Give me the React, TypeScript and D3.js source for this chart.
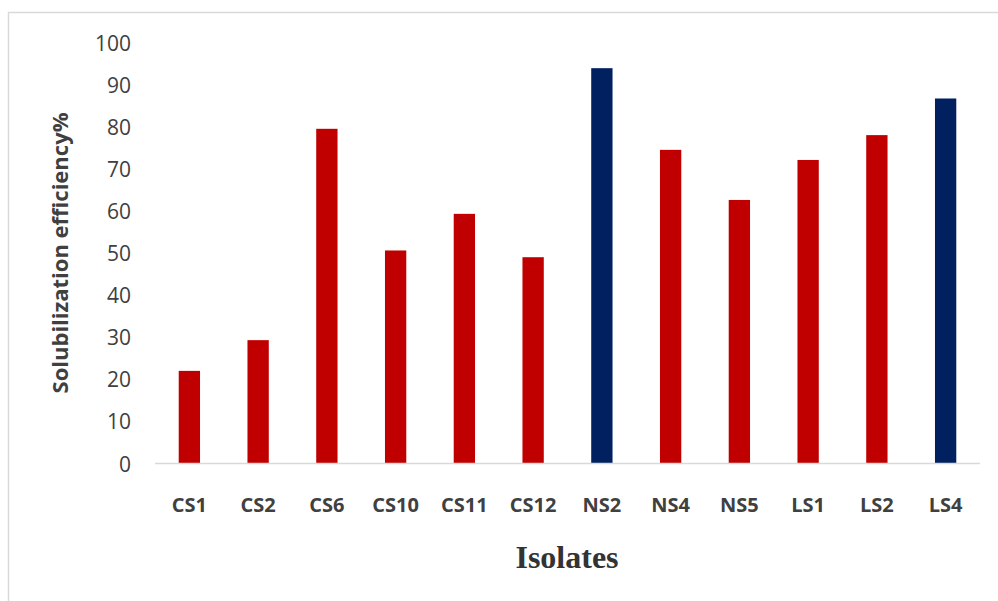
import React from "react";
import * as d3 from "d3";

const isolates = ["CS1", "CS2", "CS6", "CS10", "CS11", "CS12", "NS2", "NS4", "NS5", "LS1", "LS2", "LS4"];
const efficiency = [22.0, 29.3, 79.5, 50.6, 59.3, 49.0, 93.9, 74.5, 62.6, 72.1, 78.0, 86.7];
const highlighted = ["NS2", "LS4"];
const yTicks = [0, 10, 20, 30, 40, 50, 60, 70, 80, 90, 100];

const W = 998;
const H = 601;
const left = 155;
const right = 980;
const top = 42.5;
const bottom = 463.5;

export default function App() {
  const x = d3.scaleBand<string>().domain(isolates).range([left, right]).paddingInner(0.69).paddingOuter(0.345);
  const y = d3.scaleLinear().domain([0, 100]).range([bottom, top]);

  return (
    <svg
      width={W}
      height={H}
      style={{ position: "absolute", left: 0, top: 0, background: "#fff" }}
    >
      <rect x={8.5} y={12.5} width={W} height={H} fill="#fff" stroke="#d9d9d9" strokeWidth={1.5} />
      {/* y tick labels */}
      {yTicks.map((t) => (
        <text
          key={t}
          x={131}
          y={y(t)}
          textAnchor="end"
          dominantBaseline="central"
          fontFamily="Open Sans, Noto Sans, sans-serif"
          fontSize={21}
          fill="#404040"
        >
          {t}
        </text>
      ))}
      {/* bars */}
      {isolates.map((name, i) => (
        <rect
          key={name}
          x={x(name)!}
          y={y(efficiency[i])}
          width={x.bandwidth()}
          height={bottom - y(efficiency[i])}
          fill={highlighted.includes(name) ? "#002060" : "#c00000"}
        />
      ))}
      {/* x axis line */}
      <line x1={left} x2={right} y1={bottom} y2={bottom} stroke="#d9d9d9" strokeWidth={1.5} />
      {/* category labels */}
      {isolates.map((name) => (
        <text
          key={name}
          x={x(name)! + x.bandwidth() / 2}
          y={504}
          textAnchor="middle"
          dominantBaseline="central"
          fontFamily="Open Sans, Noto Sans, sans-serif"
          fontWeight="bold"
          fontSize={20}
          fill="#404040"
        >
          {name}
        </text>
      ))}
      {/* axis titles */}
      <text
        x={567}
        y={568}
        textAnchor="middle"
        fontFamily="Liberation Serif, Times New Roman, serif"
        fontWeight="bold"
        fontSize={32}
        fill="#333"
      >
        Isolates
      </text>
      <text
        transform={`translate(59, 253) rotate(-90)`}
        textAnchor="middle"
        dominantBaseline="central"
        fontFamily="Open Sans, Noto Sans, sans-serif"
        fontWeight="bold"
        fontSize={22}
        fill="#404040"
      >
        Solubilization efficiency%
      </text>
    </svg>
  );
}
